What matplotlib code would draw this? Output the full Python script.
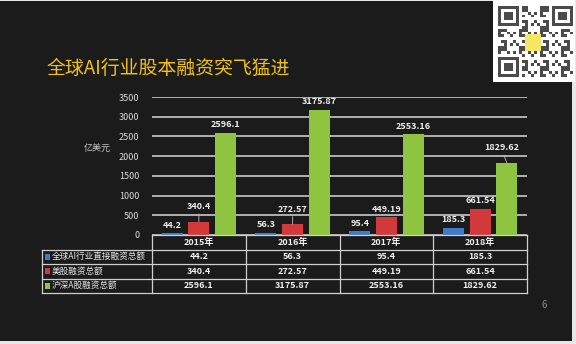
import numpy as np
import matplotlib
matplotlib.use("Agg")
import matplotlib.pyplot as plt
from matplotlib.lines import Line2D
from matplotlib.patches import Rectangle
import matplotlib.transforms as mtransforms

plt.rcParams['font.family'] = ['Noto Sans CJK SC', 'DejaVu Sans']

# ---------------- data ----------------
years = ["2015年", "2016年", "2017年", "2018年"]
series_names = ["全球AI行业直接融资总额", "美股融资总额", "沪深A股融资总额"]
ai_direct = [44.2, 56.3, 95.4, 185.3]
us_stock = [340.4, 272.57, 449.19, 661.54]
a_share = [2596.1, 3175.87, 2553.16, 1829.62]
y_ticks = [0, 500, 1000, 1500, 2000, 2500, 3000, 3500]
title = "全球AI行业股本融资突飞猛进"
unit = "亿美元"
page_no = "6"

series = [ai_direct, us_stock, a_share]
colors = ["#3f7bc8", "#d2393a", "#8fc440"]
# labels drawn higher with a leader line: (series index, year index)
raised = {(1, 0), (1, 1), (2, 3)}

W, H = 576, 344
fig = plt.figure(figsize=(W / 100, H / 100), dpi=100)
fig.patch.set_facecolor("#e6e6e6")

def fx(x):
    return x / W

def fy(y):
    return 1 - y / H

# slide background
fig.add_artist(Rectangle((fx(0), fy(341)), fx(572), fy(1) - fy(341),
                         transform=fig.transFigure, facecolor="#1b1b1b",
                         edgecolor="none", zorder=0))

# title
fig.text(fx(47), fy(68), title, color="#f2c21b", fontsize=13.6,
         ha="left", va="center")

# QR code decoration
qax = fig.add_axes([fx(493), fy(82), fx(82), fy(0) - fy(82)])
qax.set_facecolor("white")
n = 25
ii, jj = np.meshgrid(np.arange(n), np.arange(n), indexing="ij")
pat = (((ii * ii * 13 + jj * jj * 7 + ii * jj * 5 + ii * 3 + jj) % 7) < 3).astype(float)
def finder(r, c):
    pat[r:r + 7, c:c + 7] = 0
    pat[r:r + 7, c] = 1; pat[r:r + 7, c + 6] = 1
    pat[r, c:c + 7] = 1; pat[r + 6, c:c + 7] = 1
    pat[r + 2:r + 5, c + 2:c + 5] = 1
finder(0, 0); finder(0, n - 7); finder(n - 7, 0)
pat[7, :8] = 0; pat[:8, 7] = 0; pat[7, n - 8:] = 0; pat[:8, n - 8] = 0
pat[n - 8, :8] = 0; pat[n - 8:, 7] = 0
qax.imshow(pat, cmap="Greys", vmin=0, vmax=1.3, extent=(0.06, 0.97, 0.06, 0.92),
           interpolation="nearest")
qax.add_patch(Rectangle((0.39, 0.38), 0.19, 0.21, facecolor="#f5e663",
                        edgecolor="none", transform=qax.transAxes, zorder=3))
qax.set_xlim(0, 1); qax.set_ylim(0, 1)
qax.set_xticks([]); qax.set_yticks([])
for s in qax.spines.values():
    s.set_visible(False)

# ---------------- chart ----------------
x_left, x_right, y_top, y_zero = 152, 527, 97, 235
ax = fig.add_axes([fx(x_left), fy(y_zero), fx(x_right - x_left), fy(y_top) - fy(y_zero)])
ax.set_facecolor("none")
ax.set_xlim(-0.5, len(years) - 0.5)
ax.set_ylim(0, 3500)
ax.set_yticks(y_ticks)
ax.set_yticklabels([str(t) for t in y_ticks])
ax.tick_params(axis="y", length=0, pad=9, labelsize=6.5, labelcolor="#d9d9d9")
ax.tick_params(axis="x", length=0, labelbottom=False)
ax.yaxis.grid(True, color="#d8d8d8", linewidth=1.1)
ax.set_axisbelow(True)
for s in ax.spines.values():
    s.set_visible(False)

xs = np.arange(len(years))
bw = 0.225
offs = [-0.285, 0.0, 0.285]
for si, vals in enumerate(series):
    bars = ax.bar(xs + offs[si], vals, width=bw, color=colors[si], zorder=3)
    for yi, (b, v) in enumerate(zip(bars, vals)):
        cx = b.get_x() + b.get_width() / 2
        if (si, yi) in raised:
            dx = -4 if si == 2 else 0
            ax.annotate(f"{v:g}", xy=(cx, v), xytext=(dx, 7.5), textcoords="offset points",
                        ha="center", va="bottom", fontsize=6.5, color="#f0f0f0",
                        fontweight="bold",
                        arrowprops=dict(arrowstyle="-", color="#bfbfbf", lw=0.6,
                                        shrinkA=0, shrinkB=0))
        else:
            ax.annotate(f"{v:g}", xy=(cx, v), xytext=(0, 2.5), textcoords="offset points",
                        ha="center", va="bottom", fontsize=6.5, color="#f0f0f0",
                        fontweight="bold")

fig.text(fx(97), fy(148), unit, color="#c8c8c8", fontsize=6.5, ha="center", va="center",
         style="italic")

# ---------------- data table ----------------
bt = mtransforms.blended_transform_factory(ax.transData, fig.transFigure)
row_y = [235, 249.5, 264, 278.5, 293]
lc = "#cfcfcf"
lw = 0.9
x_edges = np.arange(len(years) + 1) - 0.5
# horizontal lines
fig.add_artist(Line2D([x_edges[0], x_edges[-1]], [fy(row_y[0])] * 2, transform=bt,
                      color=lc, lw=lw))
for yv in row_y[1:]:
    fig.add_artist(Line2D([fx(42), fx(x_right)], [fy(yv)] * 2, transform=fig.transFigure,
                          color=lc, lw=lw))
# vertical lines
for xe in x_edges:
    fig.add_artist(Line2D([xe, xe], [fy(row_y[0]), fy(row_y[-1])], transform=bt,
                          color=lc, lw=lw))
fig.add_artist(Line2D([fx(42), fx(42)], [fy(row_y[1]), fy(row_y[-1])],
                      transform=fig.transFigure, color=lc, lw=lw))

# header
for xi, yr in enumerate(years):
    fig.text(xi, fy((row_y[0] + row_y[1]) / 2), yr, transform=bt, ha="center",
             va="center", fontsize=6.5, color="#f0f0f0", fontweight="bold")
# rows
for si, vals in enumerate(series):
    yc = (row_y[si + 1] + row_y[si + 2]) / 2
    fig.add_artist(Rectangle((fx(44.5), fy(yc + 2.8)), fx(5.5), fy(yc - 2.8) - fy(yc + 2.8),
                             transform=fig.transFigure, facecolor=colors[si],
                             edgecolor="none"))
    fig.text(fx(51.5), fy(yc), series_names[si], ha="left", va="center",
             fontsize=6.2, color="#e6e6e6")
    for xi, v in enumerate(vals):
        fig.text(xi, fy(yc), f"{v:g}", transform=bt, ha="center", va="center",
                 fontsize=6.5, color="#f0f0f0", fontweight="bold")

fig.text(fx(544), fy(305), page_no, color="#8c8c8c", fontsize=7, ha="center", va="center")

fig.savefig("out.png", dpi=100, facecolor=fig.get_facecolor())
